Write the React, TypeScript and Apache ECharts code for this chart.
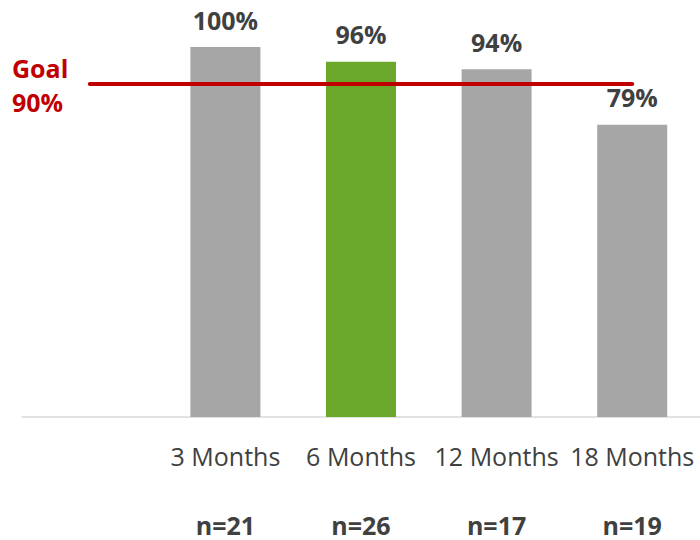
import React, { useEffect, useRef } from "react";
import * as echarts from "echarts";

const categories = ["", "3 Months", "6 Months", "12 Months", "18 Months"];
const sampleSizes = ["", "n=21", "n=26", "n=17", "n=19"];
const values: (number | null)[] = [null, 100, 96, 94, 79];
const barColors = ["#A6A6A6", "#A6A6A6", "#6AA72B", "#A6A6A6", "#A6A6A6"];
const goalValue = 90;
const goalLabel = ["Goal", "90%"];

export default function App() {
  const ref = useRef<HTMLDivElement>(null);
  useEffect(() => {
    if (!ref.current) return;
    const chart = echarts.init(ref.current, undefined, { renderer: "svg" });
    const font = "'Open Sans', 'Noto Sans', sans-serif";
    chart.setOption({
      animation: false,
      textStyle: { fontFamily: font },
      grid: { left: 22, right: 0, top: 47, bottom: 123 },
      xAxis: [
        {
          type: "category",
          data: categories,
          axisLine: { show: true, lineStyle: { color: "#D9D9D9", width: 1.5 } },
          axisTick: { show: false },
          axisLabel: {
            color: "#404040",
            fontSize: 25,
            fontFamily: font,
            margin: 26,
            interval: 0,
          },
        },
        {
          type: "category",
          data: sampleSizes,
          position: "bottom",
          offset: 95,
          axisLine: { show: false },
          axisTick: { show: false },
          axisLabel: {
            color: "#404040",
            fontSize: 25,
            fontWeight: "bold",
            fontFamily: font,
            margin: 0,
            interval: 0,
          },
        },
      ],
      yAxis: { type: "value", min: 0, max: 100, show: false },
      graphic: [
        {
          type: "text",
          left: 12,
          top: 51,
          style: {
            text: goalLabel.join("\n"),
            fill: "#C00000",
            font: `bold 25px ${font}`,
            lineHeight: 34,
            align: "center",
            width: 56,
          },
        },
      ],
      series: [
        {
          type: "bar",
          xAxisIndex: 0,
          data: values.map((v, i) => ({ value: v, itemStyle: { color: barColors[i] } })),
          barWidth: 70,
          label: {
            show: true,
            position: "top",
            distance: 15,
            color: "#404040",
            fontSize: 25,
            fontWeight: "bold",
            fontFamily: font,
            formatter: (p: any) => (p.value == null ? "" : `${p.value}%`),
          },
          markLine: {
            silent: true,
            symbol: ["none", "none"],
            label: { show: false },
            lineStyle: { color: "#C00000", width: 4, type: "solid", cap: "round" },
            data: [
              [
                { coord: [0, goalValue] },
                { coord: [4, goalValue] },
              ],
            ],
          },
        },
      ],
    });
    return () => chart.dispose();
  }, []);
  return (
    <div
      ref={ref}
      style={{ position: "fixed", left: 0, top: 0, width: 700, height: 540, background: "#fff" }}
    />
  );
}
